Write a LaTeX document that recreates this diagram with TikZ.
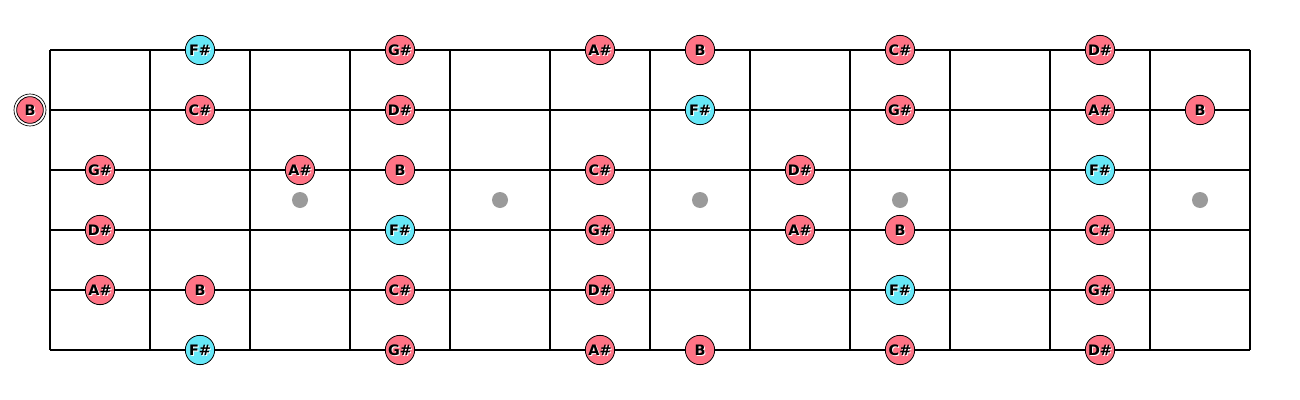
\documentclass[tikz,border=0pt]{standalone}
\usepackage{fontspec}
\setmainfont{DejaVu Sans}
\definecolor{notered}{HTML}{FF7385}
\definecolor{notecyan}{HTML}{66E8F8}
\definecolor{dotgray}{HTML}{9A9A9A}
\newcommand{\mynote}[5]{%
  \node[#1] (#5) at (#2,#3) {};
  \node[lbl,white,xshift=0.75pt,yshift=-0.75pt] at (#2,#3) {#4};
  \node[lbl,black] at (#2,#3) {#4};}
\begin{document}
\begin{tikzpicture}[x=0.75pt,y=-0.75pt,
  fret/.style={line width=1.5pt},
  notebase/.style={circle,draw=black,line width=0.6pt,minimum size=22pt,inner sep=0pt},
  rednote/.style={notebase,fill=notered},
  cyannote/.style={notebase,fill=notecyan},
  inlay/.style={circle,fill=dotgray,minimum size=12pt,inner sep=0pt},
  lbl/.style={font=\fontsize{10.8}{10.8}\selectfont\bfseries,inner sep=0pt}]
\useasboundingbox (0,0) rectangle (1300,400);
% strings
\foreach \y in {50,110,170,230,290,350} \draw[fret] (50,\y) -- (1250,\y);
% frets
\foreach \x in {50,150,...,1250} \draw[fret] (\x,50) -- (\x,350);
% inlays
\foreach \x/\n in {300/i3,500/i5,700/i7,900/i9,1200/i12} \node[inlay] (\n) at (\x,200) {};
% open B
\node[circle,draw=black,line width=0.5pt,minimum size=24pt,inner sep=0pt] (openring) at (30,110) {};
\mynote{rednote,minimum size=20pt}{30}{110}{B}{openB}
% string 1
\mynote{cyannote}{200}{50}{F\#}{a1}
\mynote{rednote}{400}{50}{G\#}{a2}
\mynote{rednote}{600}{50}{A\#}{a3}
\mynote{rednote}{700}{50}{B}{a4}
\mynote{rednote}{900}{50}{C\#}{a5}
\mynote{rednote}{1100}{50}{D\#}{a6}
% string 2
\mynote{rednote}{200}{110}{C\#}{b1}
\mynote{rednote}{400}{110}{D\#}{b2}
\mynote{cyannote}{700}{110}{F\#}{b3}
\mynote{rednote}{900}{110}{G\#}{b4}
\mynote{rednote}{1100}{110}{A\#}{b5}
\mynote{rednote}{1200}{110}{B}{b6}
% string 3
\mynote{rednote}{100}{170}{G\#}{c1}
\mynote{rednote}{300}{170}{A\#}{c2}
\mynote{rednote}{400}{170}{B}{c3}
\mynote{rednote}{600}{170}{C\#}{c4}
\mynote{rednote}{800}{170}{D\#}{c5}
\mynote{cyannote}{1100}{170}{F\#}{c6}
% string 4
\mynote{rednote}{100}{230}{D\#}{d1}
\mynote{cyannote}{400}{230}{F\#}{d2}
\mynote{rednote}{600}{230}{G\#}{d3}
\mynote{rednote}{800}{230}{A\#}{d4}
\mynote{rednote}{900}{230}{B}{d5}
\mynote{rednote}{1100}{230}{C\#}{d6}
% string 5
\mynote{rednote}{100}{290}{A\#}{e1}
\mynote{rednote}{200}{290}{B}{e2}
\mynote{rednote}{400}{290}{C\#}{e3}
\mynote{rednote}{600}{290}{D\#}{e4}
\mynote{cyannote}{900}{290}{F\#}{e5}
\mynote{rednote}{1100}{290}{G\#}{e6}
% string 6
\mynote{cyannote}{200}{350}{F\#}{f1}
\mynote{rednote}{400}{350}{G\#}{f2}
\mynote{rednote}{600}{350}{A\#}{f3}
\mynote{rednote}{700}{350}{B}{f4}
\mynote{rednote}{900}{350}{C\#}{f5}
\mynote{rednote}{1100}{350}{D\#}{f6}
\end{tikzpicture}
\end{document}
